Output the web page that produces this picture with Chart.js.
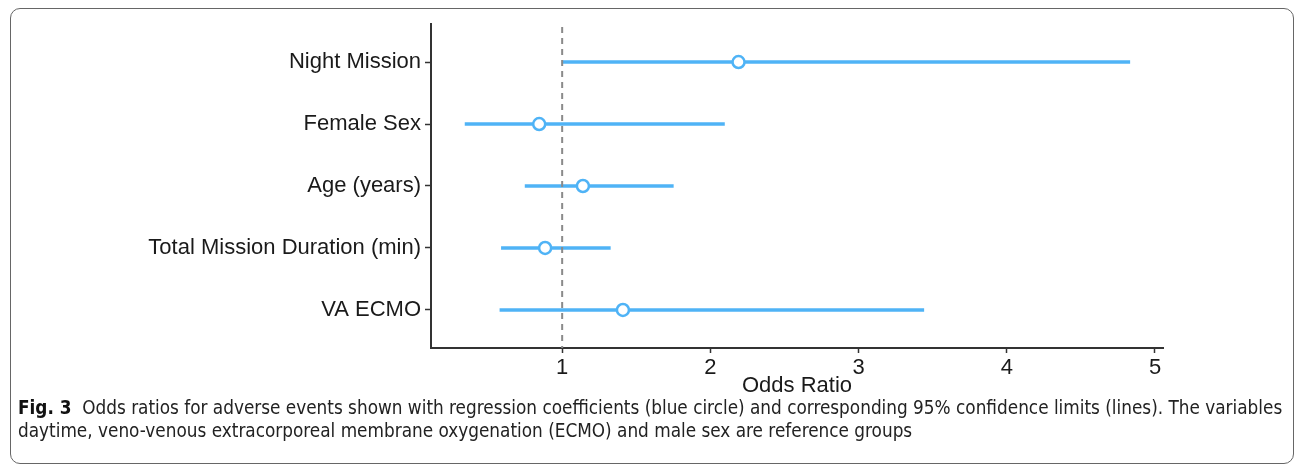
<!DOCTYPE html>
<html>
<head>
<meta charset="utf-8">
<script src="https://cdn.jsdelivr.net/npm/chart.js@4"></script>
<style>
  body { margin: 0; background: #fff; width: 1295px; height: 468px; overflow: hidden; position: relative; }
  #frame { position: absolute; left: 10px; top: 8px; width: 1284px; height: 456px; border: 1.5px solid #666; border-radius: 10px; box-sizing: border-box; }
  #wrap { position: absolute; left: 0; top: 0; width: 1295px; height: 400px; }
  #caption { position: absolute; left: 18px; top: 396px; width: 1275px; font-family: "DejaVu Sans Condensed", "Liberation Sans Narrow", sans-serif; font-stretch: condensed; font-size: 18.8px; line-height: 23px; color: #222; white-space: nowrap; }
  #caption b { color: #111; }
</style>
</head>
<body>
<div id="frame"></div>
<div id="wrap"><canvas id="carta_or"></canvas></div>
<div id="caption"><b>Fig. 3</b>&nbsp; Odds ratios for adverse events shown with regression coefficients (blue circle) and corresponding 95% confidence limits (lines). The variables<br>daytime, veno-venous extracorporeal membrane oxygenation (ECMO) and male sex are reference groups</div>
<script>
// rows, top to bottom
const rowLabels = ["Night Mission", "Female Sex", "Age (years)", "Total Mission Duration (min)", "VA ECMO"]
const oddsRatio = [2.19, 0.845, 1.14, 0.885, 1.41]
const ciLow = [1.00, 0.345, 0.75, 0.59, 0.58]
const ciHigh = [4.83, 2.095, 1.75, 1.325, 3.44]
const xTicks = [1, 2, 3, 4, 5]
const refLine = 1

const blue = "#4fb3f6"

const refLinePlugin = {
    id: "refLine",
    afterDatasetsDraw(chart) {
        const { ctx, chartArea, scales } = chart
        const x = scales.x.getPixelForValue(refLine)
        ctx.save()
        ctx.strokeStyle = "#8a8a8a"
        ctx.lineWidth = 2
        ctx.setLineDash([6, 5])
        ctx.beginPath()
        ctx.moveTo(x, chartArea.top + 3)
        ctx.lineTo(x, chartArea.bottom)
        ctx.stroke()
        ctx.restore()
    }
}

const carta_or = document.getElementById("carta_or")
new Chart(carta_or, {
    type: "bar",
    data: {
        datasets: [{
            type: "line",
            label: "Odds ratio",
            data: oddsRatio.map((v, i) => ({ x: v, y: i + 1 })),
            showLine: false,
            pointRadius: 6,
            pointBorderWidth: 2.5,
            pointBackgroundColor: "#fff",
            pointBorderColor: blue,
            order: 0
        }, {
            label: "95% CI",
            data: ciLow.map((v, i) => ({ x: [v, ciHigh[i]], y: i + 1 })),
            backgroundColor: blue,
            borderWidth: 0,
            borderSkipped: false,
            barThickness: 3,
            order: 1
        }]
    },
    options: {
        indexAxis: "y",
        responsive: true,
        maintainAspectRatio: false,
        animation: false,
        layout: { padding: { top: 24, right: 132, left: 0, bottom: 0 } },
        plugins: { legend: { display: false }, tooltip: { enabled: false } },
        scales: {
            x: {
                type: "linear",
                min: 0.115,
                max: 5.054,
                afterFit: s => { s.height = 52 },
                afterBuildTicks: s => { s.ticks = xTicks.map(v => ({ value: v })) },
                border: { display: true, color: "#333", width: 2 },
                grid: { drawOnChartArea: false, drawTicks: true, tickLength: 5, tickColor: "#333", tickWidth: 1.5 },
                ticks: { color: "#1a1a1a", padding: 2, font: { family: "Liberation Sans", size: 22 } },
                title: {
                    display: true,
                    text: "Odds Ratio",
                    color: "#1a1a1a",
                    padding: { top: 0, bottom: 1 },
                    font: { family: "Liberation Sans", size: 22 }
                }
            },
            y: {
                type: "linear",
                reverse: true,
                offset: false,
                min: 0.387,
                max: 5.613,
                afterFit: s => { s.width = 431 },
                afterBuildTicks: s => { s.ticks = rowLabels.map((l, i) => ({ value: i + 1 })) },
                border: { display: true, color: "#333", width: 2 },
                grid: { offset: false, drawOnChartArea: false, drawTicks: true, tickLength: 6, tickColor: "#333", tickWidth: 1.5 },
                ticks: {
                    color: "#1a1a1a",
                    padding: 4,
                    font: { family: "Liberation Sans", size: 22 },
                    callback: v => rowLabels[Math.round(v) - 1]
                }
            }
        }
    },
    plugins: [refLinePlugin]
});
</script>
</body>
</html>
